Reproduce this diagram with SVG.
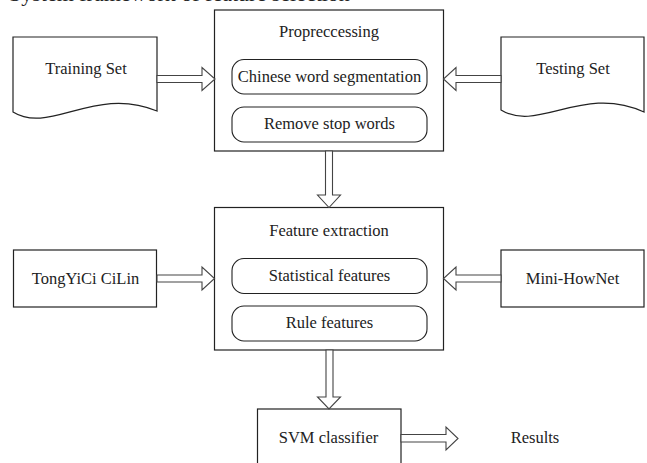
<svg xmlns="http://www.w3.org/2000/svg" width="647" height="463" viewBox="0 0 647 463">
<style>
  .box{fill:#fff;stroke:#222;stroke-width:1.2}
  .pill{fill:#fff;stroke:#222;stroke-width:1.1}
  .arr{fill:#fff;stroke:#444;stroke-width:1.1;stroke-linejoin:miter}
  .t{font-family:'Liberation Serif',Tinos,'Times New Roman',Times,serif;font-size:16.5px;fill:#222;text-anchor:middle}
  .cap{font-size:22px;text-anchor:start}
</style>
<rect width="647" height="463" fill="#fff"/>
<text class="t cap" x="9" y="0.5" font-family="Liberation Serif, serif">System framework of feature selection</text>

<g id="training-set">
  <path class="box" d="M13,112 V37 H157 V111 C95,85 50,135 13,112 Z"/>
  <text class="t" x="86" y="74" font-family="Liberation Serif, serif">Training Set</text>
</g>
<g id="testing-set">
  <path class="box" d="M501,110 V37 H644 V112 C583,84 538,133 501,110 Z"/>
  <text class="t" x="573" y="74" font-family="Liberation Serif, serif">Testing Set</text>
</g>
<g id="preprocessing">
  <rect class="box" x="214.5" y="10" width="229" height="141"/>
  <text class="t" x="329" y="37" font-family="Liberation Serif, serif">Propreccessing</text>
  <rect class="pill" x="232" y="59.5" width="195" height="34.5" rx="12"/>
  <text class="t" x="329.5" y="82" font-family="Liberation Serif, serif">Chinese word segmentation</text>
  <rect class="pill" x="232" y="107" width="195" height="35" rx="12"/>
  <text class="t" x="329.5" y="129" font-family="Liberation Serif, serif">Remove stop words</text>
</g>
<g id="feature-extraction">
  <rect class="box" x="214.5" y="207.5" width="229" height="142.5"/>
  <text class="t" x="329" y="236" font-family="Liberation Serif, serif">Feature extraction</text>
  <rect class="pill" x="232" y="258.5" width="195" height="35" rx="12"/>
  <text class="t" x="329.5" y="281" font-family="Liberation Serif, serif">Statistical features</text>
  <rect class="pill" x="232" y="306" width="195" height="35" rx="12"/>
  <text class="t" x="329.5" y="328" font-family="Liberation Serif, serif">Rule features</text>
</g>
<g id="tongyici-cilin">
  <rect class="box" x="13.5" y="250" width="143" height="57"/>
  <text class="t" x="85.5" y="284" font-family="Liberation Serif, serif">TongYiCi CiLin</text>
</g>
<g id="mini-hownet">
  <rect class="box" x="501" y="250" width="143" height="57"/>
  <text class="t" x="572.5" y="284" font-family="Liberation Serif, serif">Mini-HowNet</text>
</g>
<g id="svm-classifier">
  <rect class="box" x="257.5" y="409" width="143.5" height="70"/>
  <text class="t" x="328.5" y="443" font-family="Liberation Serif, serif">SVM classifier</text>
</g>
<g id="results">
  <text class="t" x="535" y="443" font-family="Liberation Serif, serif">Results</text>
</g>

<g id="connectors">
  <path class="arr" d="M157,75.5 H202 V67.5 L215,79 L202,90.5 V82.5 H157 Z"/>
  <path class="arr" d="M501,75.5 H456 V67.5 L443.5,79 L456,90.5 V82.5 H501 Z"/>
  <path class="arr" d="M157,275 H202 V267 L214.5,278.5 L202,290 V282 H157 Z"/>
  <path class="arr" d="M501,275 H456 V267 L443.5,278.5 L456,290 V282 H501 Z"/>
  <path class="arr" d="M325.5,151 V195 H317.5 L329,207.5 L340.5,195 H332.5 V151 Z"/>
  <path class="arr" d="M326,350 V397 H317.5 L329,409 L340.5,397 H333 V350 Z"/>
  <path class="arr" d="M401,434.5 H446 V427 L458,438.5 L446,450 V442 H401 Z"/>
</g>
</svg>
